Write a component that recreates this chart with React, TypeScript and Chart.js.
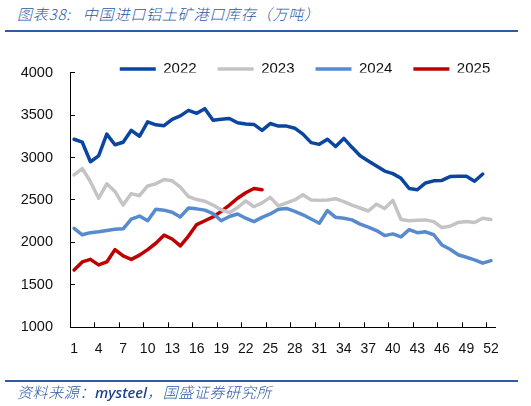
import { useEffect, useRef } from "react";
import { Chart, registerables } from "chart.js";

Chart.register(...registerables);

const weeks = [
  "1", "2", "3", "4", "5", "6", "7", "8", "9", "10", "11", "12", "13",
  "14", "15", "16", "17", "18", "19", "20", "21", "22", "23", "24", "25", "26",
  "27", "28", "29", "30", "31", "32", "33", "34", "35", "36", "37", "38", "39",
  "40", "41", "42", "43", "44", "45", "46", "47", "48", "49", "50", "51", "52",
];

const y2022 = [
  3215, 3180, 2950, 3020, 3275, 3150, 3180, 3320, 3250, 3420,
  3385, 3375, 3450, 3490, 3555, 3520, 3575, 3440, 3450, 3460,
  3410, 3395, 3390, 3320, 3400, 3370, 3370, 3345, 3275, 3175,
  3155, 3215, 3130, 3225, 3120, 3020, 2960, 2900, 2840, 2810,
  2755, 2635, 2620, 2700, 2725, 2730, 2775, 2780, 2780, 2720, 2805,
];

const y2023 = [
  2795, 2870, 2715, 2520, 2690, 2600, 2440, 2575, 2550, 2665,
  2690, 2740, 2725, 2650, 2540, 2505, 2485, 2440, 2385, 2350,
  2410, 2490, 2420, 2465, 2530, 2430, 2465, 2500, 2560, 2500,
  2495, 2500, 2515, 2480, 2440, 2405, 2370, 2450, 2400, 2495,
  2270, 2255, 2260, 2265, 2245, 2175, 2190, 2235, 2245, 2235, 2285, 2270,
];

const y2024 = [
  2165, 2090, 2115, 2125, 2140, 2155, 2160, 2275, 2310, 2255,
  2390, 2380, 2355, 2300, 2405, 2395, 2380, 2340, 2255, 2305,
  2335, 2285, 2245, 2295, 2335, 2390, 2400, 2365, 2325, 2275,
  2225, 2375, 2295, 2285, 2265, 2215, 2180, 2140, 2080, 2100,
  2065, 2150, 2115, 2125, 2090, 1970, 1920, 1855, 1825, 1795, 1755, 1785,
];

const y2025 = [
  1675, 1770, 1800, 1735, 1770, 1915, 1840, 1800, 1850, 1915,
  1990, 2085, 2040, 1960, 2075, 2210, 2255, 2300, 2365, 2440,
  2520, 2585, 2635, 2620,
];

const yTickValues = [1000, 1500, 2000, 2500, 3000, 3500, 4000];

const seriesNames = ["2022", "2023", "2024", "2025"];
const seriesData = [y2022, y2023, y2024, y2025];
const seriesColors = ["#0a46a0", "#c4c4c4", "#578bcd", "#c00000"];

const FONT = '"Liberation Sans", Arial, sans-serif';
const CJK = '"Noto Sans CJK SC", sans-serif';
const BLUE = "#2a58a4";

export default function App() {
  const ref = useRef<HTMLCanvasElement>(null);

  useEffect(() => {
    const canvas = ref.current;
    if (!canvas) return;

    const legendShift = {
      id: "legendShift",
      afterLayout(chart: any) {
        const lg = chart.legend;
        if (lg) {
          lg.left += 52.5;
          lg.right += 52.5;
        }
      },
    };

    const chart = new Chart(canvas, {
      type: "line",
      data: {
        labels: weeks,
        datasets: seriesNames.map((name, i) => ({
          label: name,
          data: seriesData[i],
          borderColor: seriesColors[i],
          backgroundColor: seriesColors[i],
          borderWidth: 3.5,
          borderCapStyle: "round" as const,
          borderJoinStyle: "round" as const,
          pointRadius: 0,
          pointHoverRadius: 0,
          tension: 0,
          fill: false,
        })),
      },
      options: {
        responsive: false,
        animation: false,
        layout: { padding: { left: 10, right: 36, top: 40.5, bottom: 38.7 } },
        plugins: {
          legend: {
            position: "top",
            maxHeight: 32.1,
            labels: {
              usePointStyle: true,
              pointStyle: "line",
              pointStyleWidth: 36,
              padding: 21,
              color: "#111",
              font: { family: FONT, size: 15 },
            },
          } as any,
          tooltip: { enabled: false },
        },
        scales: {
          x: {
            offset: true,
            grid: {
              offset: true,
              drawOnChartArea: false,
              tickLength: -5,
              tickWidth: 1,
              tickColor: (c: any) =>
                typeof c.index === "number" && c.index % 3 === 0 ? "#000" : "rgba(0,0,0,0)",
            },
            border: { display: true, color: "#000", width: 1 },
            ticks: {
              autoSkip: false,
              maxRotation: 0,
              minRotation: 0,
              padding: 18.3,
              color: "#111",
              font: { family: FONT, size: 14 },
              callback: (_v: any, i: number) => (i % 3 === 0 ? weeks[i] : ""),
            },
            afterFit: (s: any) => {
              s.height = 40;
            },
          },
          y: {
            min: 1000,
            max: 4000,
            afterBuildTicks: (s: any) => {
              s.ticks = yTickValues.map((v) => ({ value: v }));
            },
            grid: {
              drawOnChartArea: false,
              tickLength: -5,
              tickWidth: 1,
              tickColor: "#000",
            },
            border: { display: true, color: "#000", width: 1 },
            ticks: {
              padding: 22,
              color: "#111",
              font: { family: FONT, size: 14.5 },
              callback: (v: any) => String(v),
            },
            afterFit: (s: any) => {
              s.width = 60;
            },
          },
        },
      },
      plugins: [legendShift],
    });

    return () => chart.destroy();
  }, []);

  return (
    <div
      style={{
        position: "absolute",
        left: 0,
        top: 0,
        width: 531,
        height: 406,
        background: "#fff",
        overflow: "hidden",
      }}
    >
      <div
        style={{
          position: "absolute",
          left: 17,
          top: 5,
          fontSize: 15,
          lineHeight: "17px",
          fontStyle: "italic",
          fontWeight: 300,
          letterSpacing: "0.8px",
          color: BLUE,
          fontFamily: CJK,
          whiteSpace: "nowrap",
        }}
      >
        图表38:<span style={{ marginLeft: 12 }}>中国进口铝土矿港口库存（万吨）</span>
      </div>
      <div
        style={{
          position: "absolute",
          left: 5,
          top: 29.5,
          width: 513,
          height: 2,
          background: "#2d5ba6",
        }}
      />
      <canvas
        ref={ref}
        width={531}
        height={406}
        style={{ position: "absolute", left: 0, top: 0, width: 531, height: 406 }}
      />
      <div
        style={{
          position: "absolute",
          left: 5,
          top: 379.5,
          width: 513,
          height: 2,
          background: "#2d5ba6",
        }}
      />
      <div
        style={{
          position: "absolute",
          left: 17,
          top: 383,
          fontSize: 15,
          lineHeight: "17px",
          fontStyle: "italic",
          fontWeight: 300,
          letterSpacing: "0.6px",
          color: BLUE,
          fontFamily: CJK,
          whiteSpace: "nowrap",
        }}
      >
        资料来源：
        <span
          style={{
            fontFamily: '"Noto Sans", sans-serif',
            fontWeight: 500,
            letterSpacing: 0,
            color: "#1b3f8f",
          }}
        >
          mysteel
        </span>
        ，国盛证券研究所
      </div>
    </div>
  );
}
